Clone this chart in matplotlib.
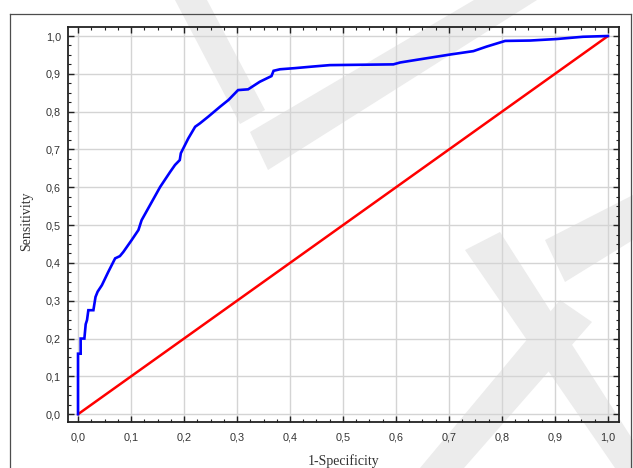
import matplotlib
matplotlib.use("Agg")
import matplotlib.pyplot as plt
from matplotlib.lines import Line2D
from matplotlib.patches import Polygon
from matplotlib.ticker import MultipleLocator, FuncFormatter

# ROC curve (1-Specificity, Sensitivity)
fpr = [0.0, 0.0, 0.005, 0.005, 0.012, 0.0145, 0.017, 0.0195, 0.029, 0.033, 0.037,
       0.045, 0.057, 0.070, 0.079, 0.0855, 0.101, 0.114, 0.120, 0.155, 0.174,
       0.183, 0.192, 0.194, 0.208, 0.221, 0.230, 0.246, 0.268, 0.284, 0.302,
       0.321, 0.343, 0.365, 0.369, 0.381, 0.409, 0.441, 0.475, 0.595, 0.608,
       0.639, 0.702, 0.746, 0.771, 0.806, 0.853, 0.903, 0.953, 1.0]
tpr = [0.0, 0.16, 0.16, 0.20, 0.20, 0.238, 0.249, 0.275, 0.275, 0.31, 0.324,
       0.341, 0.376, 0.412, 0.418, 0.429, 0.46, 0.487, 0.513, 0.601, 0.641,
       0.659, 0.672, 0.69, 0.729, 0.760, 0.769, 0.787, 0.813, 0.831, 0.857,
       0.859, 0.879, 0.894, 0.908, 0.912, 0.915, 0.919, 0.923, 0.925, 0.93,
       0.937, 0.951, 0.960, 0.972, 0.987, 0.988, 0.992, 0.998, 1.0]
diag = [0.0, 1.0]
tick_values = [0.0, 0.1, 0.2, 0.3, 0.4, 0.5, 0.6, 0.7, 0.8, 0.9, 1.0]

W, H = 633, 468
fig = plt.figure(figsize=(W / 100, H / 100), dpi=100)
fig.patch.set_facecolor("white")


def fx(px):
    return px / W


def fy(py):
    return 1 - py / H


# outer frame (bottom is cut off in the picture)
for xs, ys in [([10, 10], [14, H + 5]), ([10, 631], [14, 14]), ([631, 631], [14, H + 5])]:
    fig.add_artist(Line2D([fx(x) for x in xs], [fy(y) for y in ys],
                          color="#4d4d4d", lw=0.9, transform=fig.transFigure))

# watermark strokes (background decoration)
wm_color = "#ececec"
strokes = [
    [(175, 0), (207, 0), (265, 110), (240, 124)],
    [(250, 132), (474, 0), (537, 0), (268, 170)],
    [(420, 468), (560, 300), (592, 322), (464, 468)],
    [(465, 250), (500, 232), (633, 440), (633, 468), (615, 468)],
    [(545, 240), (633, 195), (633, 240), (565, 282)],
]
for s in strokes:
    fig.add_artist(Polygon([(fx(x), fy(y)) for x, y in s], closed=True,
                           facecolor=wm_color, edgecolor="none",
                           transform=fig.transFigure, zorder=0.5))

ax = fig.add_axes([68 / W, 1 - 421.7 / H, (619 - 68) / W, (421.7 - 27) / H])
ax.set_facecolor("none")
ax.set_zorder(1)

ax.plot(diag, diag, color="#ff0000", lw=1.8, solid_capstyle="round", zorder=3)
ax.plot(fpr, tpr, color="#0000ff", lw=1.9, solid_joinstyle="miter", zorder=4)

ax.set_xlim(-0.0189, 1.0208)
ax.set_ylim(-0.0198, 1.0238)

ax.set_xticks(tick_values)
ax.set_yticks(tick_values)
ax.xaxis.set_minor_locator(MultipleLocator(0.025))
ax.yaxis.set_minor_locator(MultipleLocator(0.025))
fmt = FuncFormatter(lambda v, p: f"{v:.1f}".replace(".", ","))
ax.xaxis.set_major_formatter(fmt)
ax.yaxis.set_major_formatter(fmt)

ax.grid(True, which="major", color="#d4d4d4", lw=1.0)
ax.set_axisbelow(True)

ax.tick_params(which="both", direction="in", top=True, right=True, color="#222222")
ax.tick_params(which="major", length=4, width=1.0)
ax.tick_params(which="minor", length=2, width=0.8)
ax.tick_params(axis="x", which="major", pad=8, labelsize=7.8, labelcolor="#333333")
ax.tick_params(axis="y", which="major", pad=5, labelsize=7.8, labelcolor="#333333")
for lbl in ax.get_xticklabels() + ax.get_yticklabels():
    lbl.set_family("Liberation Sans")

for sp in ax.spines.values():
    sp.set_color("#222222")
    sp.set_linewidth(1.3)

fig.text(343.5 / W, 1 - 461 / H, "1-Specificity", ha="center", va="center",
         fontsize=10, family="Liberation Serif", color="#333333")
fig.text(27 / W, 1 - 221 / H, "Sensitivity", ha="center", va="center",
         rotation=90, fontsize=10, family="Liberation Serif", color="#333333")

fig.savefig("out.png", dpi=100)
